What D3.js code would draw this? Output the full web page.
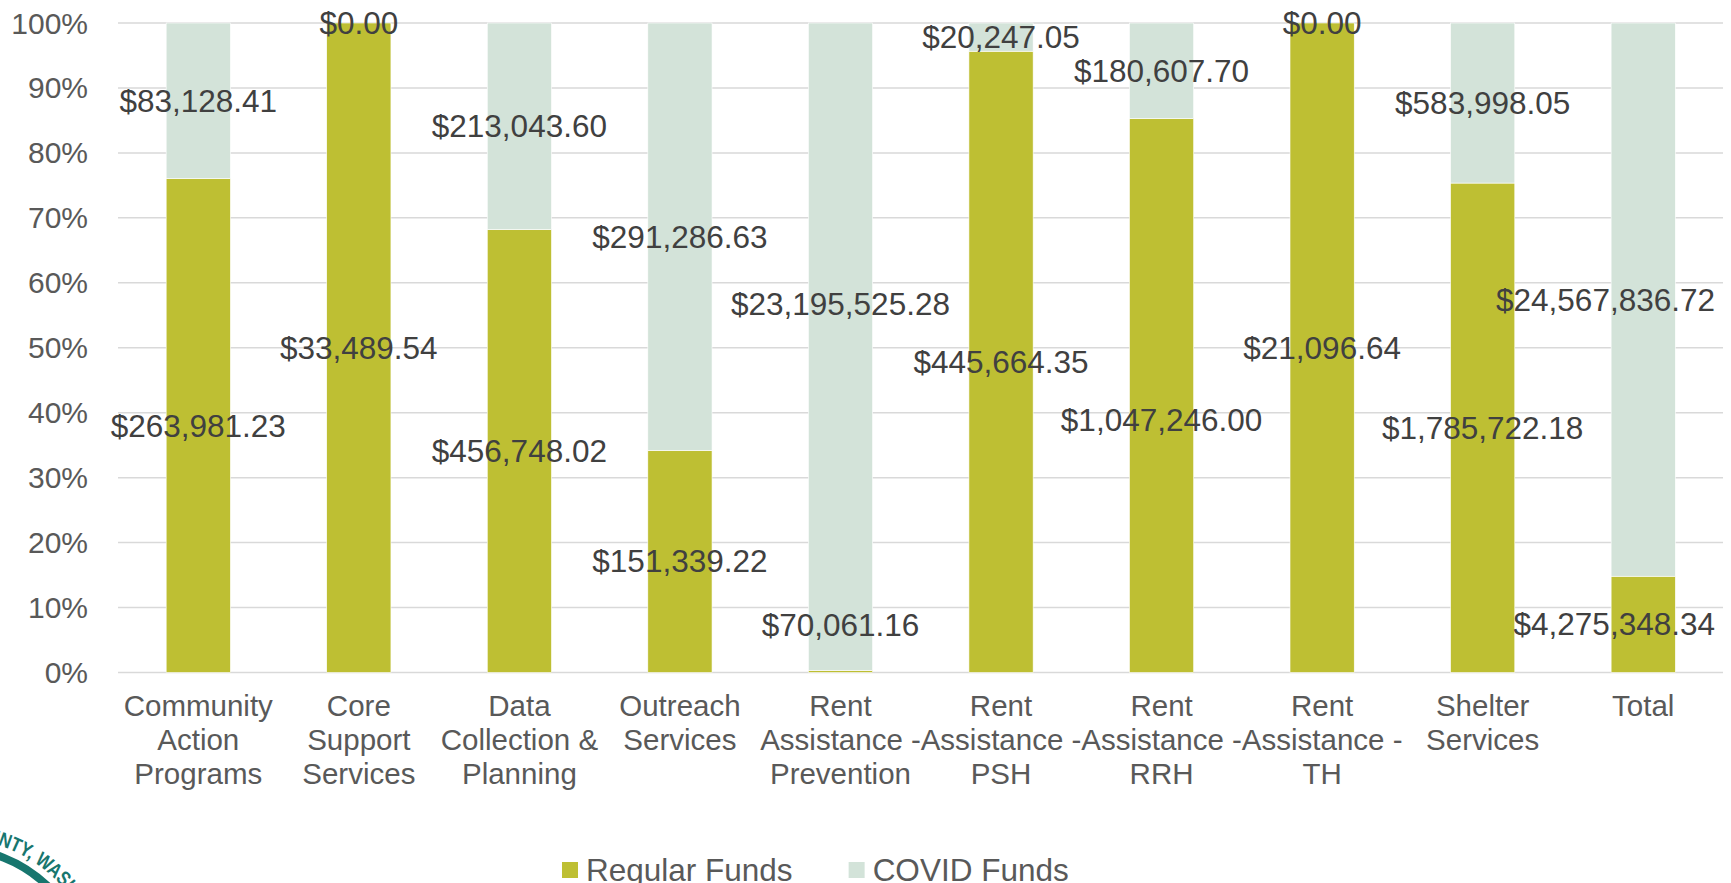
<!DOCTYPE html>
<html>
<head>
<meta charset="utf-8">
<script src="https://cdn.jsdelivr.net/npm/d3@7"></script>
<style>
  html, body { margin: 0; padding: 0; background: #fff; }
  svg { display: block; font-family: 'Liberation Sans', Arial, sans-serif; }
</style>
</head>
<body>
<svg id="chart" width="1731" height="883"></svg>
<script>
const categories = [
  'Community Action Programs',
  'Core Support Services',
  'Data Collection & Planning',
  'Outreach Services',
  'Rent Assistance - Prevention',
  'Rent Assistance - PSH',
  'Rent Assistance - RRH',
  'Rent Assistance - TH',
  'Shelter Services',
  'Total'
];
const regularFunds = [263981.23, 33489.54, 456748.02, 151339.22, 70061.16, 445664.35, 1047246.00, 21096.64, 1785722.18, 4275348.34];
const covidFunds = [83128.41, 0, 213043.60, 291286.63, 23195525.28, 20247.05, 180607.70, 0, 583998.05, 24567836.72];
const seriesNames = ['Regular Funds', 'COVID Funds'];
const seriesKeys = ['regular', 'covid'];
const yTicks = [0, 0.1, 0.2, 0.3, 0.4, 0.5, 0.6, 0.7, 0.8, 0.9, 1];

const colors = {
  regular: '#bebf33',
  covid: '#d3e3d9',
  grid: '#d9d9d9',
  axisText: '#595959',
  labelText: '#404040',
  seal: '#17766e'
};

const width = 1731;
const height = 883;
const margin = { top: 23, right: 8, bottom: 211, left: 118 };

// labels of very thin segments are kept off the axis line
const labelFloor = 0.073;
// data labels keep inside the chart on the right
const labelRightLimit = 1715;
// vertical room one data label needs before it is pushed away from another
const labelGap = 58;
const labelSize = 31.5;

const svg = d3.select('#chart');

const rows = categories.map((c, i) => ({
  category: c,
  regular: regularFunds[i],
  covid: covidFunds[i]
}));

const stacked = d3.stack()
  .keys(seriesKeys)
  .offset(d3.stackOffsetExpand)(rows);

const x = d3.scaleBand()
  .domain(categories)
  .range([margin.left, width - margin.right + 0.5])
  .paddingInner(0.6)
  .paddingOuter(0.3);

const y = d3.scaleLinear()
  .domain([0, 1])
  .range([height - margin.bottom + 0.5, margin.top]);

// gridlines
svg.append('g')
  .attr('class', 'grid')
  .selectAll('line')
  .data(yTicks)
  .enter()
  .append('line')
  .attr('x1', margin.left)
  .attr('x2', width - margin.right)
  .attr('y1', d => y(d))
  .attr('y2', d => y(d))
  .attr('stroke', colors.grid)
  .attr('stroke-width', 1.5);

// y axis labels
svg.append('g')
  .attr('class', 'y-labels')
  .selectAll('text')
  .data(yTicks)
  .enter()
  .append('text')
  .attr('x', margin.left - 30)
  .attr('y', d => y(d))
  .attr('dy', '0.35em')
  .attr('text-anchor', 'end')
  .attr('font-size', 30)
  .attr('fill', colors.axisText)
  .text(d3.format('.0%'));

// bars
svg.append('g')
  .attr('class', 'bars')
  .selectAll('g')
  .data(stacked)
  .enter()
  .append('g')
  .attr('fill', d => colors[d.key])
  .selectAll('rect')
  .data(d => d)
  .enter()
  .append('rect')
  .attr('x', d => x(d.data.category))
  .attr('width', x.bandwidth())
  .attr('y', d => y(d[1]))
  .attr('height', d => Math.max(0, y(d[0]) - y(d[1])))
  .attr('stroke', '#fff')
  .attr('stroke-width', 0.6);

// data labels: centred on each segment, then nudged apart where they collide
const money = d3.format('$,.2f');
const labelData = [];
stacked.forEach((s) => {
  s.forEach((v) => {
    labelData.push({
      key: s.key,
      text: money(v.data[s.key]),
      cx: x(v.data.category) + x.bandwidth() / 2,
      cy: y(Math.max(labelFloor, (v[0] + v[1]) / 2))
    });
  });
});

const labelG = svg.append('g').attr('class', 'data-labels');
const labels = labelG.selectAll('text')
  .data(labelData)
  .enter()
  .append('text')
  .attr('text-anchor', 'middle')
  .attr('dy', '0.35em')
  .attr('font-size', labelSize)
  .attr('fill', colors.labelText)
  .text(d => d.text);

const placed = [];
labels.each(function (d) {
  const w = this.getComputedTextLength();
  d.w = w;
  d.cx = Math.min(d.cx, labelRightLimit - w / 2);
  placed.forEach((p) => {
    const inset = 8;
    const hOverlap = Math.abs(p.cx - d.cx) < (p.w + d.w) / 2 - inset;
    if (hOverlap && Math.abs(p.cy - d.cy) < labelGap) {
      d.cy = d.cy > p.cy ? p.cy + labelGap : p.cy - labelGap;
    }
  });
  placed.push(d);
});

labels
  .attr('x', d => d.cx)
  .attr('y', d => d.cy);

// category labels, wrapped to the band
const catText = svg.append('g')
  .attr('class', 'x-labels')
  .selectAll('text')
  .data(categories)
  .enter()
  .append('text')
  .attr('text-anchor', 'middle')
  .attr('font-size', 29.5)
  .attr('fill', colors.axisText)
  .attr('transform', d => `translate(${x(d) + x.bandwidth() / 2},${y(0) + 43})`);

catText.each(function (d) {
  const text = d3.select(this);
  const words = d.split(' ');
  const lines = [];
  let line = [];
  const probe = text.append('tspan');
  words.forEach((w) => {
    probe.text(line.concat([w]).join(' '));
    if (line.length && probe.node().getComputedTextLength() > 170) {
      lines.push(line.join(' '));
      line = [w];
    } else {
      line.push(w);
    }
  });
  lines.push(line.join(' '));
  probe.remove();
  lines.forEach((l, i) => {
    text.append('tspan')
      .attr('x', 0)
      .attr('y', i * 34.3)
      .text(l);
  });
});

// legend
const legend = svg.append('g')
  .attr('class', 'legend')
  .attr('transform', 'translate(562,881)');

let lx = 0;
seriesKeys.forEach((k, i) => {
  const item = legend.append('g').attr('transform', `translate(${lx},0)`);
  item.append('rect')
    .attr('x', 0)
    .attr('y', -19)
    .attr('width', 16)
    .attr('height', 16)
    .attr('fill', colors[k]);
  const t = item.append('text')
    .attr('x', 24)
    .attr('y', 0)
    .attr('font-size', 31.5)
    .attr('fill', colors.axisText)
    .text(seriesNames[i]);
  lx += 24 + t.node().getComputedTextLength() + 56;
});

// partial county seal in the bottom-left corner
const seal = { cx: -47, cy: 985, r: 137, tr: 147 };
const sealG = svg.append('g').attr('class', 'seal');
sealG.append('circle')
  .attr('cx', seal.cx)
  .attr('cy', seal.cy)
  .attr('r', seal.r)
  .attr('fill', 'none')
  .attr('stroke', colors.seal)
  .attr('stroke-width', 8);
sealG.append('path')
  .attr('id', 'seal-arc')
  .attr('d', `M${seal.cx - seal.tr},${seal.cy} A${seal.tr},${seal.tr} 0 0 1 ${seal.cx + seal.tr},${seal.cy}`)
  .attr('fill', 'none');
sealG.append('text')
  .attr('font-size', 20)
  .attr('font-weight', 'bold')
  .attr('fill', colors.seal)
  .append('textPath')
  .attr('href', '#seal-arc')
  .attr('startOffset', 239)
  .attr('textLength', 192)
  .attr('lengthAdjust', 'spacingAndGlyphs')
  .text('COUNTY, WASHINGTON');
</script>
</body>
</html>
